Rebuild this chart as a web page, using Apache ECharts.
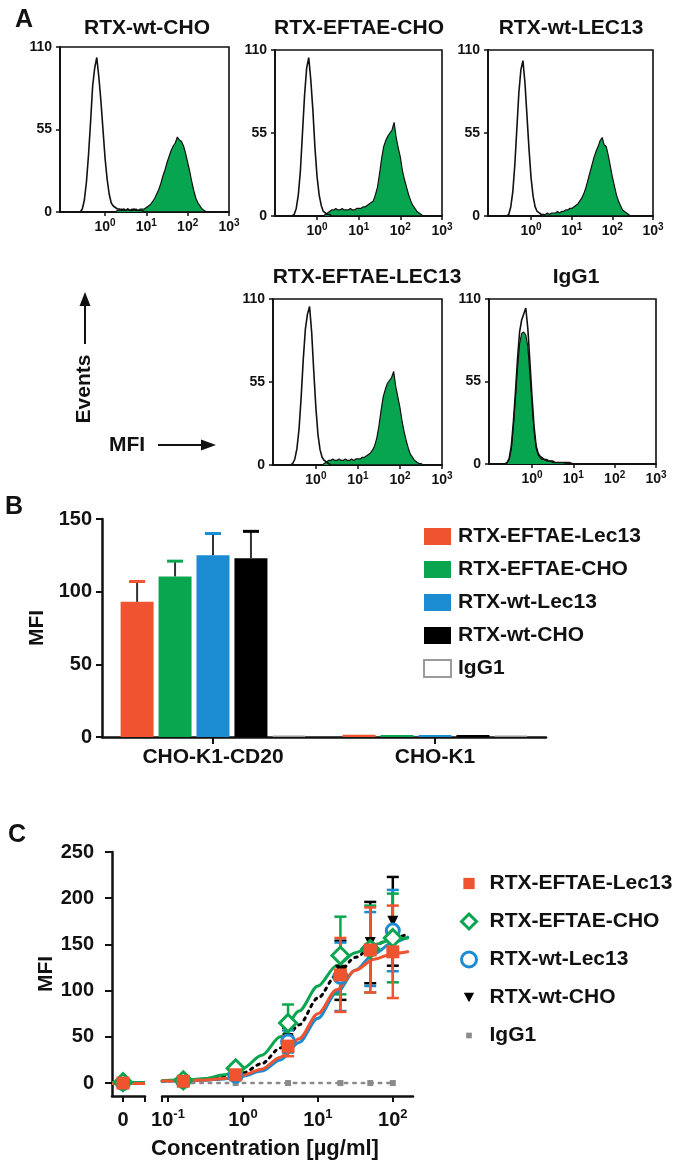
<!DOCTYPE html>
<html><head><meta charset="utf-8">
<script src="https://cdn.jsdelivr.net/npm/echarts@6/dist/echarts.min.js"></script>
<style>
html,body{margin:0;padding:0;background:#fff;}
.layer{position:absolute;left:0;top:0;width:687px;height:1166px;}
</style></head><body>
<div id="pa" class="layer"></div><div id="pb" class="layer"></div><div id="pc" class="layer"></div>
<script>
// ================= DATA =================
// Panel A: flow cytometry histograms (x = log10 MFI channel, y = events)
const HIST_BINS = [-0.65,-0.6,-0.55,-0.5,-0.45,-0.4,-0.35,-0.3,-0.25,-0.2,
 -0.15,-0.1,-0.05,0,0.05,0.1,0.15,0.2,0.25,0.3,
 0.35,0.4,0.45,0.5,0.55,0.6,0.65,0.7,0.75,0.8,
 0.85,0.9,0.95,1,1.05,1.1,1.15,1.2,1.25,1.3,
 1.35,1.4,1.45,1.5,1.55,1.6,1.65,1.7,1.75,1.8,
 1.85,1.9,1.95,2,2.05,2.1,2.15,2.2,2.25,2.3,
 2.35,2.4,2.45,2.5,2.55,2.6,2.65];
const HIST_X_TICKS = [0, 1, 2, 3];
const HIST_Y_TICKS = [0, 55, 110];
const HIST_TITLES = ['RTX-wt-CHO', 'RTX-EFTAE-CHO', 'RTX-wt-LEC13', 'RTX-EFTAE-LEC13', 'IgG1'];
const CTRL_WT_CHO = [0,0,2,8,20,38,60,84,96,103, 90,74,55,36,22,12,6,4,3,2, 2,1,2,1,2,1,1,2,1,1, 1,1];
const STAIN_WT_CHO = [0,0,0,0,0,0,0,0,0,0, 0,0,0,0,0,0,0,0,0,1, 1,2,1,1,2,1,2,1,2,1, 2,2,2,3,4,5,7,9,12,15, 19,24,28,33,37,41,44,46,50,48, 47,44,39,33,27,20,14,9,6,4, 2,1];
const CTRL_EFTAE_CHO = [0,0,1,5,14,30,55,80,98,105, 90,70,45,26,14,7,3,2,1,1];
const STAIN_EFTAE_CHO = [0,0,0,0,0,0,0,0,0,0, 0,0,0,0,0,0,0,1,2,3, 4,4,5,4,4,5,4,4,4,5, 4,4,5,5,5,6,6,7,8,9, 10,14,19,28,38,46,50,53,55,57, 62,52,45,39,30,24,19,14,10,7, 5,3,2,1];
const CTRL_WT_LEC13 = [0,0,1,6,16,34,58,82,97,103, 88,66,44,25,13,6,3,2,1,1];
const STAIN_WT_LEC13 = [0,0,0,0,0,0,0,0,0,0, 0,0,0,0,0,0,0,0,0,1, 1,2,1,2,2,2,3,2,3,3, 4,4,5,5,6,7,8,10,12,15, 19,24,29,34,39,43,46,50,52,47, 46,40,33,26,20,14,10,7,4,3, 2,1];
const CTRL_EFTAE_LEC13 = [0,0,1,4,11,24,45,70,90,100, 105,88,62,38,20,10,5,3,2,1];
const STAIN_EFTAE_LEC13 = [0,0,0,0,0,0,0,0,0,0, 0,0,0,0,0,0,0,1,2,3, 3,4,3,3,4,3,3,4,3,3, 4,3,4,4,4,5,5,6,7,8, 10,13,18,26,36,45,50,54,56,58, 62,52,45,38,29,22,16,11,7,5, 3,2,1,1];
const CTRL_IGG1 = [0,1,4,12,28,48,70,88,96,100, 104,90,68,45,25,12,7,5,4,3, 3,2,2,2,1,1,1,1,1,1, 1,1,0.5];
const STAIN_IGG1 = [0,1,3,10,25,44,64,80,87,88, 86,78,60,40,22,11,6,4,3,3, 2,2,2,1,1,1,1,1,1,0.5, 0.5];

// Panel B: bar chart
const B_CATEGORIES = ['CHO-K1-CD20', 'CHO-K1'];
const B_NAMES = ['RTX-EFTAE-Lec13', 'RTX-EFTAE-CHO', 'RTX-wt-Lec13', 'RTX-wt-CHO', 'IgG1'];
const B_MEAN_EFTAE_LEC13 = [93, 1.5];
const B_SD_EFTAE_LEC13 = [14, 0];
const B_MEAN_EFTAE_CHO = [110.5, 1.3];
const B_SD_EFTAE_CHO = [10.5, 0];
const B_MEAN_WT_LEC13 = [125, 1.3];
const B_SD_WT_LEC13 = [15, 0];
const B_MEAN_WT_CHO = [123, 1.3];
const B_SD_WT_CHO = [18.5, 0];
const B_MEAN_IGG1 = [1, 1];
const B_SD_IGG1 = [0, 0];

// Panel C: dose response
const C_ZERO_CONC = [0];
const C_CONC = [0.16, 0.8, 4, 20, 50, 100];
const C_X_TICKS = [0.1, 1, 10, 100];
const C_Y_TICKS = [0, 50, 100, 150, 200, 250];
const C_ZERO_EFTAE_LEC13 = [0];   const C_ZERO_SD_EFTAE_LEC13 = [2];
const C_ZERO_EFTAE_CHO = [1];     const C_ZERO_SD_EFTAE_CHO = [3];
const C_ZERO_WT_LEC13 = [0];      const C_ZERO_SD_WT_LEC13 = [2];
const C_ZERO_WT_CHO = [0];        const C_ZERO_SD_WT_CHO = [2];
const C_ZERO_IGG1 = [0];
const C_MEAN_EFTAE_LEC13 = [2, 9, 40, 117, 144, 142];
const C_SD_EFTAE_LEC13 = [1, 3, 11, 40, 46, 50];
const C_MEAN_EFTAE_CHO = [3, 16, 65, 138, 145, 157];
const C_SD_EFTAE_CHO = [2, 4, 20, 42, 47, 48];
const C_MEAN_WT_LEC13 = [2, 8, 45, 115, 145, 165];
const C_SD_WT_LEC13 = [1, 3, 12, 37, 40, 44];
const C_MEAN_WT_CHO = [2, 10, 48, 122, 152, 175];
const C_SD_WT_CHO = [1, 3, 12, 32, 44, 48];
const C_MEAN_IGG1 = [0, 0, 0, 0, 0, 0];
// fitted curves at these concentrations
const C_FIT_CONC = [0.0835, 0.178, 0.316, 0.562, 1, 1.78, 3.16, 5.62, 10, 17.8, 31.6, 56.2, 100, 158];
const C_FIT_EFTAE_LEC13 = [2.2, 2.6, 3.4, 5, 8.5, 15, 28, 48, 75, 101, 122, 134, 140, 142];
const C_FIT_EFTAE_CHO = [2.5, 3.5, 5, 9, 16, 30, 50, 78, 105, 127, 141, 150, 155, 157];
const C_FIT_WT_LEC13 = [2, 2.4, 3, 4.5, 7.5, 13, 25, 44, 70, 98, 122, 140, 152, 158];
const C_FIT_WT_CHO = [2, 2.8, 4, 6.5, 11, 21, 38, 63, 92, 117, 136, 149, 157, 161];

// ================= STYLE / LAYOUT =================
const FONT = '"Liberation Sans", Arial, Helvetica, sans-serif';
const INK = '#111';
const RED = '#f0532f', GREEN = '#0aa64f', BLUE = '#1b8bd2', GREY = '#8a8a8a';
const HIST_GREEN = '#07a550';

function txt(text, x, y, size, extra) {
  return Object.assign({type: 'text', x: x, y: y, style: {text: text, textAlign: 'center', textVerticalAlign: 'middle',
    fontSize: size, fontWeight: 'bold', fontFamily: FONT, fill: INK}}, extra || {});
}
function supRich(base, sup) {
  return {
    b: {fontSize: base, fontWeight: 'bold', fontFamily: FONT, color: INK, verticalAlign: 'bottom', lineHeight: base + 2},
    s: {fontSize: sup, fontWeight: 'bold', fontFamily: FONT, color: INK, verticalAlign: 'top', lineHeight: sup}
  };
}

// ================= PANEL A =================
const HIST_LAYOUT = [
  {left: 60, top: 47, width: 169, height: 165, xmin: -1.09, tx: 147, ty: 28},
  {left: 275, top: 50, width: 167, height: 166, xmin: -1.01, tx: 359, ty: 28},
  {left: 488, top: 50, width: 165, height: 166, xmin: -1.06, tx: 571, ty: 28},
  {left: 273, top: 299, width: 169, height: 166, xmin: -1.02, tx: 367, ty: 277},
  {left: 489, top: 299, width: 167, height: 165, xmin: -1.04, tx: 576, ty: 277}
];
const HIST_CTRL = [CTRL_WT_CHO, CTRL_EFTAE_CHO, CTRL_WT_LEC13, CTRL_EFTAE_LEC13, CTRL_IGG1];
const HIST_STAIN = [STAIN_WT_CHO, STAIN_EFTAE_CHO, STAIN_WT_LEC13, STAIN_EFTAE_LEC13, STAIN_IGG1];

const optA = {animation: false, grid: [], xAxis: [], yAxis: [], series: [], graphic: []};
HIST_TITLES.forEach(function (title, i) {
  const L = HIST_LAYOUT[i];
  optA.grid.push({left: L.left, top: L.top, width: L.width, height: L.height, show: true,
    borderColor: INK, borderWidth: 1.6, backgroundColor: 'transparent', containLabel: false, outerBoundsMode: 'none'});
  optA.xAxis.push({type: 'value', gridIndex: i, min: L.xmin, max: 3,
    axisLine: {show: true, onZero: false, lineStyle: {color: INK, width: 1.8}},
    axisTick: {show: true, customValues: HIST_X_TICKS, length: 4, lineStyle: {color: INK, width: 1.5}},
    axisLabel: {customValues: HIST_X_TICKS, margin: 6, formatter: function (v) { return '{b|10}{s|' + v + '}'; }, rich: supRich(14, 10)},
    splitLine: {show: false}});
  optA.yAxis.push({type: 'value', gridIndex: i, min: 0, max: 110,
    axisLine: {show: true, onZero: false, lineStyle: {color: INK, width: 1.8}},
    axisTick: {show: true, customValues: HIST_Y_TICKS, length: 4, lineStyle: {color: INK, width: 1.5}},
    axisLabel: {customValues: HIST_Y_TICKS, margin: 8, fontSize: 14, fontWeight: 'bold', fontFamily: FONT, color: INK},
    splitLine: {show: false}});
  optA.series.push({type: 'line', xAxisIndex: i, yAxisIndex: i, symbol: 'none', silent: true,
    data: HIST_BINS.map(function (b, k) { return [b, HIST_STAIN[i][k] || 0]; }),
    lineStyle: {color: INK, width: 1.2}, areaStyle: {color: HIST_GREEN, opacity: 1}});
  optA.series.push({type: 'line', xAxisIndex: i, yAxisIndex: i, symbol: 'none', silent: true,
    data: HIST_BINS.map(function (b, k) { return [b, HIST_CTRL[i][k] || 0]; }),
    lineStyle: {color: INK, width: 1.6}});
  optA.graphic.push(txt(title, L.tx, L.ty, 21));
});
optA.graphic.push(txt('A', 24, 20, 25));
optA.graphic.push(txt('Events', 84, 389, 21, {rotation: Math.PI / 2}));
optA.graphic.push({type: 'line', shape: {x1: 85, y1: 344, x2: 85, y2: 300}, style: {stroke: INK, lineWidth: 2}});
optA.graphic.push({type: 'polygon', shape: {points: [[85, 292], [79.5, 306], [90.5, 306]]}, style: {fill: INK}});
optA.graphic.push(txt('MFI', 127, 445, 21));
optA.graphic.push({type: 'line', shape: {x1: 158, y1: 445, x2: 206, y2: 445}, style: {stroke: INK, lineWidth: 2}});
optA.graphic.push({type: 'polygon', shape: {points: [[216, 445], [201, 439.5], [201, 450.5]]}, style: {fill: INK}});
echarts.init(document.getElementById('pa')).setOption(optA);

// ================= PANEL B =================
const BAR_W = 33, BAR_GAP = 0.15;
const B_MEANS = [B_MEAN_EFTAE_LEC13, B_MEAN_EFTAE_CHO, B_MEAN_WT_LEC13, B_MEAN_WT_CHO, B_MEAN_IGG1];
const B_SDS = [B_SD_EFTAE_LEC13, B_SD_EFTAE_CHO, B_SD_WT_LEC13, B_SD_WT_CHO, B_SD_IGG1];
const B_COLORS = [RED, GREEN, BLUE, '#000', '#fff'];
const optB = {animation: false,
  grid: {left: 102, top: 519, width: 444, height: 218, containLabel: false, outerBoundsMode: 'none'},
  xAxis: {type: 'category', data: B_CATEGORIES,
    axisLine: {show: true, onZero: false, lineStyle: {color: INK, width: 2.5}},
    axisTick: {show: true, alignWithLabel: true, length: 7, lineStyle: {color: INK, width: 2}},
    axisLabel: {margin: 10, fontSize: 21, fontWeight: 'bold', fontFamily: FONT, color: INK}},
  yAxis: {type: 'value', min: 0, max: 150, interval: 50,
    axisLine: {show: true, onZero: false, lineStyle: {color: INK, width: 2.5}},
    axisTick: {show: true, length: 6, lineStyle: {color: INK, width: 2}},
    axisLabel: {margin: 10, fontSize: 20, fontWeight: 'bold', fontFamily: FONT, color: INK},
    splitLine: {show: false},
    name: 'MFI', nameLocation: 'middle', nameGap: 52, nameRotate: 90,
    nameTextStyle: {fontSize: 21, fontWeight: 'bold', fontFamily: FONT, color: INK}},
  legend: {data: B_NAMES, orient: 'vertical', left: 418, top: 521, itemWidth: 27, itemHeight: 17, itemGap: 12,
    icon: 'rect', selectedMode: false,
    textStyle: {fontSize: 21, fontWeight: 'bold', fontFamily: FONT, color: INK, padding: [0, 0, 0, 2]}},
  series: [],
  graphic: [txt('B', 14, 507, 25)]
};
B_NAMES.forEach(function (name, k) {
  optB.series.push({type: 'bar', name: name, barWidth: BAR_W, barGap: (BAR_GAP * 100) + '%',
    data: B_MEANS[k],
    itemStyle: k === 4 ? {color: '#fff', borderColor: '#9a9a9a', borderWidth: 1} : {color: B_COLORS[k]}});
});
B_NAMES.forEach(function (name, k) {
  if (k === 4) return;
  const off = (k - 2) * BAR_W * (1 + BAR_GAP);
  const col = B_COLORS[k];
  optB.series.push({type: 'custom', name: name + ' SD', z: 5, silent: true,
    data: B_CATEGORIES.map(function (c, i) { return [i, B_MEANS[k][i], B_SDS[k][i]]; }),
    encode: {x: 0, y: 1},
    renderItem: function (params, api) {
      const m = api.value(1), e = api.value(2);
      if (!e) return null;
      const p0 = api.coord([api.value(0), m]), p1 = api.coord([api.value(0), m + e]);
      const x = p0[0] + off;
      return {type: 'group', children: [
        {type: 'line', shape: {x1: x, y1: p0[1], x2: x, y2: p1[1]}, style: {stroke: '#333', lineWidth: 2}},
        {type: 'line', shape: {x1: x - 8, y1: p1[1], x2: x + 8, y2: p1[1]}, style: {stroke: col, lineWidth: 3}}
      ]};
    }});
});
echarts.init(document.getElementById('pb')).setOption(optB);

// ================= PANEL C =================
const C_X_MIN = 0.0832, C_X_MAX = 186;
const C_SERIES = [ // draw order bottom -> top
  {name: 'RTX-wt-CHO', color: '#000', symbol: 'triangle', rotate: 180, size: 11, hollow: false, dash: [2.5, 5],
   zero: C_ZERO_WT_CHO, zsd: C_ZERO_SD_WT_CHO, mean: C_MEAN_WT_CHO, sd: C_SD_WT_CHO, fit: C_FIT_WT_CHO},
  {name: 'RTX-wt-Lec13', color: BLUE, symbol: 'circle', size: 13, hollow: true, dash: 'solid',
   zero: C_ZERO_WT_LEC13, zsd: C_ZERO_SD_WT_LEC13, mean: C_MEAN_WT_LEC13, sd: C_SD_WT_LEC13, fit: C_FIT_WT_LEC13},
  {name: 'RTX-EFTAE-CHO', color: GREEN, symbol: 'diamond', size: 17, hollow: true, dash: 'solid',
   zero: C_ZERO_EFTAE_CHO, zsd: C_ZERO_SD_EFTAE_CHO, mean: C_MEAN_EFTAE_CHO, sd: C_SD_EFTAE_CHO, fit: C_FIT_EFTAE_CHO},
  {name: 'RTX-EFTAE-Lec13', color: RED, symbol: 'rect', size: 13, hollow: false, dash: 'solid',
   zero: C_ZERO_EFTAE_LEC13, zsd: C_ZERO_SD_EFTAE_LEC13, mean: C_MEAN_EFTAE_LEC13, sd: C_SD_EFTAE_LEC13, fit: C_FIT_EFTAE_LEC13}
];
function errRender(color) {
  return function (params, api) {
    const x = api.value(0), m = api.value(1), e = api.value(2);
    if (!e) return null;
    const lo = api.coord([x, m - e]), hi = api.coord([x, m + e]);
    const st = {stroke: color, lineWidth: 2.5};
    return {type: 'group', children: [
      {type: 'line', shape: {x1: lo[0], y1: lo[1], x2: hi[0], y2: hi[1]}, style: st},
      {type: 'line', shape: {x1: hi[0] - 6, y1: hi[1], x2: hi[0] + 6, y2: hi[1]}, style: st},
      {type: 'line', shape: {x1: lo[0] - 6, y1: lo[1], x2: lo[0] + 6, y2: lo[1]}, style: st}
    ]};
  };
}
const cAxisLine = {show: true, onZero: false, lineStyle: {color: INK, width: 2.5}};
const cTick = {color: INK, width: 2};
const optC = {animation: false,
  grid: [
    {left: 112, top: 852, width: 33, height: 244, containLabel: false, outerBoundsMode: 'none'},
    {left: 162, top: 852, width: 251, height: 244, containLabel: false, outerBoundsMode: 'none'}
  ],
  xAxis: [
    {type: 'value', gridIndex: 0, min: -1, max: 2, axisLine: cAxisLine,
     axisTick: {show: true, customValues: [0, 2], length: 6, lineStyle: cTick},
     axisLabel: {customValues: [0], margin: 12, formatter: function () { return '{b|0}'; }, rich: supRich(20, 13)},
     splitLine: {show: false}},
    {type: 'log', logBase: 10, gridIndex: 1, min: C_X_MIN, max: C_X_MAX, axisLine: cAxisLine,
     axisTick: {show: true, customValues: [0.0835].concat(C_X_TICKS), length: 6, lineStyle: cTick},
     axisLabel: {customValues: C_X_TICKS, margin: 12,
       formatter: function (v) { return '{b|10}{s|' + Math.round(Math.log10(v)) + '}'; }, rich: supRich(20, 13)},
     splitLine: {show: false}, minorTick: {show: false}}
  ],
  yAxis: [
    {type: 'value', gridIndex: 0, min: -14, max: 250, axisLine: cAxisLine,
     axisTick: {show: true, customValues: C_Y_TICKS, length: 7, lineStyle: cTick},
     axisLabel: {customValues: C_Y_TICKS, margin: 18, fontSize: 20, fontWeight: 'bold', fontFamily: FONT, color: INK},
     splitLine: {show: false},
     name: 'MFI', nameLocation: 'middle', nameGap: 55, nameRotate: 90,
     nameTextStyle: {fontSize: 21, fontWeight: 'bold', fontFamily: FONT, color: INK}},
    {type: 'value', gridIndex: 1, min: -14, max: 250, show: false, splitLine: {show: false}}
  ],
  legend: {orient: 'vertical', left: 455, top: 868, itemWidth: 15, itemHeight: 15, itemGap: 17, selectedMode: false,
    textStyle: {fontSize: 21, fontWeight: 'bold', fontFamily: FONT, color: INK, padding: [0, 0, 0, 8]},
    data: [
      {name: 'RTX-EFTAE-Lec13', icon: 'path://M0,0M16,16M2,2h12v12h-12z'},
      {name: 'RTX-EFTAE-CHO', itemStyle: {borderWidth: 3}},
      {name: 'RTX-wt-Lec13', itemStyle: {borderWidth: 3}},
      {name: 'RTX-wt-CHO', icon: 'path://M0,0M16,16M2.5,3h11l-5.5,10z'},
      {name: 'IgG1', icon: 'path://M0,0M16,16M5,5h6v6h-6z'}
    ]},
  series: [],
  graphic: [txt('C', 17, 835, 25), txt('Concentration [µg/ml]', 265, 1149, 22)]
};
// IgG1 (bottom)
optC.series.push({type: 'line', name: 'IgG1', xAxisIndex: 1, yAxisIndex: 1, z: 2,
  data: C_CONC.map(function (c, i) { return [c, C_MEAN_IGG1[i]]; }),
  symbol: 'rect', symbolSize: 6, itemStyle: {color: GREY, opacity: 1},
  lineStyle: {color: GREY, width: 2.5, type: [2.5, 6], cap: 'round'}});
optC.series.push({type: 'scatter', name: 'IgG1', xAxisIndex: 0, yAxisIndex: 0, z: 2,
  data: C_ZERO_CONC.map(function (c, i) { return [c, C_ZERO_IGG1[i]]; }),
  symbol: 'rect', symbolSize: 6, itemStyle: {color: GREY, opacity: 1}});
C_SERIES.forEach(function (s) {
  const pointStyle = s.hollow ? {color: '#fff', borderColor: s.color, borderWidth: 3, opacity: 1} : {color: s.color, opacity: 1};
  optC.series.push({type: 'line', name: s.name + ' fit', xAxisIndex: 1, yAxisIndex: 1, z: 3, silent: true,
    data: C_FIT_CONC.map(function (c, i) { return [c, s.fit[i]]; }),
    smooth: 0.3, smoothMonotone: 'x', symbol: 'none',
    lineStyle: {color: s.color, width: 3, type: s.dash, cap: 'round'}});
  optC.series.push({type: 'custom', name: s.name + ' SD', xAxisIndex: 1, yAxisIndex: 1, z: 4, silent: true,
    data: C_CONC.map(function (c, i) { return [c, s.mean[i], s.sd[i]]; }),
    encode: {x: 0, y: 1}, renderItem: errRender(s.color)});
  optC.series.push({type: 'custom', name: s.name + ' SD0', xAxisIndex: 0, yAxisIndex: 0, z: 4, silent: true,
    data: C_ZERO_CONC.map(function (c, i) { return [c, s.zero[i], s.zsd[i]]; }),
    encode: {x: 0, y: 1}, renderItem: errRender(s.color)});
  optC.series.push({type: 'scatter', name: s.name, xAxisIndex: 1, yAxisIndex: 1, z: 5,
    data: C_CONC.map(function (c, i) { return [c, s.mean[i]]; }),
    symbol: s.symbol, symbolRotate: s.rotate || 0, symbolSize: s.size, itemStyle: pointStyle});
  optC.series.push({type: 'scatter', name: s.name, xAxisIndex: 0, yAxisIndex: 0, z: 5,
    data: C_ZERO_CONC.map(function (c, i) { return [c, s.zero[i]]; }),
    symbol: s.symbol, symbolRotate: s.rotate || 0, symbolSize: s.size, itemStyle: pointStyle,
    markLine: {silent: true, symbol: 'none', label: {show: false},
      lineStyle: {color: s.color, width: 3, type: s.dash}, data: [{yAxis: s.zero[0]}]}});
});
echarts.init(document.getElementById('pc')).setOption(optC);
</script>
</body></html>
